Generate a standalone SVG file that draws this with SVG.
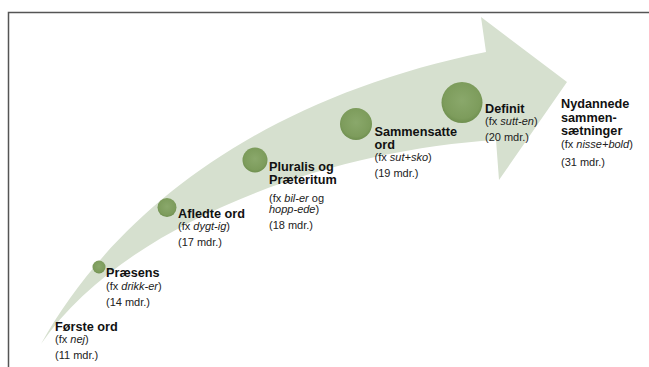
<svg xmlns="http://www.w3.org/2000/svg" width="649" height="367" viewBox="0 0 649 367">
<defs>
<radialGradient id="ball" cx="50%" cy="45%" r="55%">
<stop offset="0" stop-color="#8aa86b"/>
<stop offset="0.8" stop-color="#7d9c5c"/>
<stop offset="1" stop-color="#6f8f4f"/>
</radialGradient>
<style>
.t{font-family:"Liberation Sans",Arial,sans-serif;font-weight:bold;font-size:12.7px;fill:#111}
.s{font-family:"Liberation Sans",Arial,sans-serif;font-size:11px;fill:#222}
.i{font-style:italic}
.ball{fill:url(#ball)}
</style>
</defs>
<rect width="649" height="367" fill="#fff"/>
<path d="M8.5,367 L8.5,12.5 L649,12.5" fill="none" stroke="#555" stroke-width="1.5"/>
<g id="connectors">
<path id="arrow" d="M41,344 C110,220 250,100 486,52 L481,17 L567,82 L499,180 L496,140 C330,150 125,222 41,344 Z" fill="#d6e0cf"/>
</g>
<g id="n1">
<text class="t" x="55" y="331">Første ord</text>
<text class="s" x="55" y="343">(fx <tspan class="i">nej</tspan>)</text>
<text class="s" x="55" y="359">(11 mdr.)</text>
</g>
<g id="n2">
<circle class="ball" cx="99" cy="267" r="6.5"/>
<text class="t" x="106" y="277">Præsens</text>
<text class="s" x="106" y="289.5">(fx <tspan class="i">drikk-er</tspan>)</text>
<text class="s" x="106" y="305.5">(14 mdr.)</text>
</g>
<g id="n3">
<circle class="ball" cx="167" cy="207.5" r="9.5"/>
<text class="t" x="178" y="218">Afledte ord</text>
<text class="s" x="178" y="230">(fx <tspan class="i">dygt-ig</tspan>)</text>
<text class="s" x="178" y="246">(17 mdr.)</text>
</g>
<g id="n4">
<circle class="ball" cx="255" cy="160" r="12.5"/>
<text class="t" x="269" y="170.5">Pluralis og</text>
<text class="t" x="269" y="184">Præteritum</text>
<text class="s" x="269" y="202">(fx <tspan class="i">bil-er</tspan> og</text>
<text class="s" x="269" y="213"><tspan class="i">hopp-ede</tspan>)</text>
<text class="s" x="269" y="229">(18 mdr.)</text>
</g>
<g id="n5">
<circle class="ball" cx="356" cy="124" r="16"/>
<text class="t" x="374.5" y="135.5">Sammensatte</text>
<text class="t" x="374.5" y="148.5">ord</text>
<text class="s" x="374.5" y="161">(fx <tspan class="i">sut+sko</tspan>)</text>
<text class="s" x="374.5" y="177">(19 mdr.)</text>
</g>
<g id="n6">
<circle class="ball" cx="462" cy="102.5" r="20.5"/>
<text class="t" x="485" y="113">Definit</text>
<text class="s" x="485" y="125">(fx <tspan class="i">sutt-en</tspan>)</text>
<text class="s" x="485" y="141">(20 mdr.)</text>
</g>
<g id="n7">
<text class="t" x="561" y="108.3">Nydannede</text>
<text class="t" x="561" y="121.7">sammen-</text>
<text class="t" x="561" y="135">sætninger</text>
<text class="s" x="561" y="148.3">(fx <tspan class="i">nisse+bold</tspan>)</text>
<text class="s" x="561" y="165.7">(31 mdr.)</text>
</g>
</svg>
